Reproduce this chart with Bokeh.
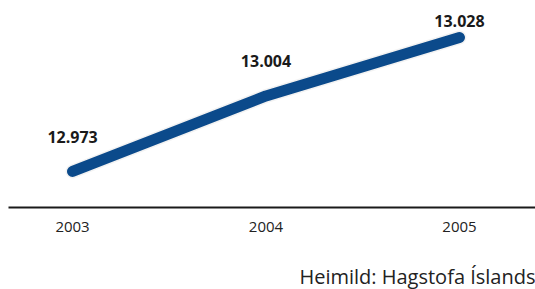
from bokeh.plotting import figure
from bokeh.models import ColumnDataSource, Range1d, FixedTicker, Title
from bokeh.embed import file_html
from bokeh.resources import INLINE
from bokeh.core.properties import value

years = [2003, 2004, 2005]
values = [12.973, 13.004, 13.028]
labels = ["12.973", "13.004", "13.028"]
tick_labels = {2003: "2003", 2004: "2004", 2005: "2005"}
source_text = "Heimild: Hagstofa Íslands"

label_dy = [-34, -35, -17]

src = ColumnDataSource(dict(x=years, y=values, label=labels, dy=label_dy))

p = figure(width=535, height=289, output_backend="svg", toolbar_location=None,
           x_range=Range1d(2002.669, 2005.393), y_range=Range1d(12.9582, 13.0432),
           min_border_left=8, min_border_right=0, min_border_top=0, min_border_bottom=0)
p.outline_line_color = None
p.grid.grid_line_color = None
p.yaxis.visible = False
p.background_fill_color = "white"
p.border_fill_color = "white"

xa = p.xaxis[0]
xa.ticker = FixedTicker(ticks=years)
xa.major_label_overrides = tick_labels
xa.axis_line_color = "#1a1a1a"
xa.axis_line_width = 2
xa.major_tick_line_color = None
xa.minor_tick_line_color = None
xa.major_label_standoff = 8
xa.major_label_text_font = "Open Sans"
xa.major_label_text_font_size = "15px"
xa.major_label_text_color = "#222222"

p.line(x="x", y="y", source=src, line_width=14, line_color="#000000",
       line_alpha=0.05, line_cap="round", line_join="round")
p.line(x="x", y="y", source=src, line_width=11, line_color="#0b4a8b",
       line_cap="round", line_join="round")

p.text(x="x", y="y", text="label", source=src, y_offset="dy",
       text_font=value("Open Sans"), text_font_style="bold", text_font_size="16px",
       text_color="#1a1a1a", text_align="center", text_baseline="middle")

spacer = Title(text=" ", text_font_size="14px", standoff=8)
p.add_layout(spacer, "below")
t = Title(text=source_text, align="right", text_font="Open Sans", text_font_size="20px",
          text_font_style="normal", text_color="#222222", standoff=0)
p.add_layout(t, "below")

open("out.html", "w").write(file_html(p, INLINE))
